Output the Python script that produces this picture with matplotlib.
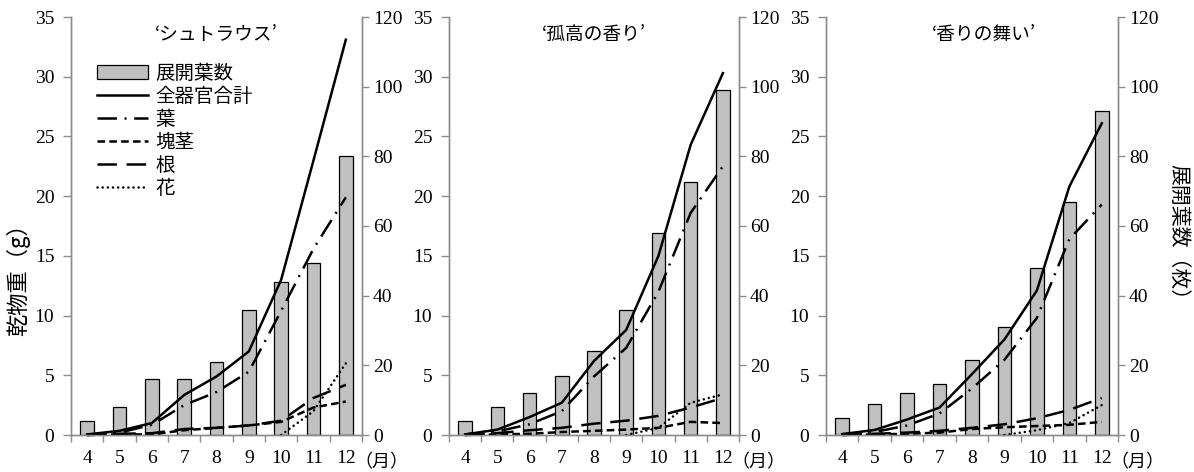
import matplotlib
matplotlib.use('Agg')
import matplotlib.pyplot as plt
import numpy as np

nan = np.nan
months = ['4', '5', '6', '7', '8', '9', '10', '11', '12']

titles = ['‘シュトラウス’', '‘孤高の香り’', '‘香りの舞い’']

# 展開葉数 (right axis)
leaves1 = [4, 8, 16, 16, 21, 36, 44, 49.5, 80]
leaves2 = [4, 8, 12, 17, 24, 36, 58, 72.7, 99]
leaves3 = [5, 9, 12, 14.5, 21.5, 31, 48, 67, 93]

# 乾物重 (left axis)
total1 = [0.05, 0.35, 1.0, 3.35, 4.9, 7.0, 13.0, 23.0, 33.1]
leaf1 = [0.0, 0.2, 0.85, 2.5, 3.6, 5.3, 10.4, 15.6, 19.9]
tuber1 = [0.0, 0.05, 0.05, 0.4, 0.6, 0.8, 1.1, 2.3, 2.8]
root1 = [0.0, 0.1, 0.15, 0.5, 0.6, 0.8, 1.2, 3.1, 4.2]
flower1 = [nan, nan, nan, nan, nan, nan, 0.0, 2.0, 6.0]

total2 = [0.05, 0.45, 1.5, 2.7, 6.2, 8.8, 15.0, 24.3, 30.3]
leaf2 = [0.05, 0.3, 0.9, 2.0, 4.9, 7.3, 12.0, 18.6, 22.5]
tuber2 = [0.0, 0.05, 0.1, 0.25, 0.35, 0.45, 0.6, 1.1, 1.0]
root2 = [0.0, 0.15, 0.4, 0.6, 0.95, 1.2, 1.6, 2.3, 3.1]
flower2 = [nan, nan, nan, nan, nan, 0.0, 0.6, 2.7, 3.4]

total3 = [0.08, 0.42, 1.3, 2.3, 5.1, 8.0, 12.1, 20.8, 26.1]
leaf3 = [0.05, 0.25, 0.8, 1.8, 3.9, 6.3, 9.8, 16.4, 19.3]
tuber3 = [0.0, 0.05, 0.1, 0.2, 0.5, 0.65, 0.75, 0.85, 1.1]
root3 = [0.0, 0.1, 0.2, 0.35, 0.6, 0.9, 1.4, 2.1, 3.1]
flower3 = [nan, nan, nan, nan, nan, 0.0, 0.4, 1.0, 2.5]

JP = ['Noto Sans CJK JP', 'DejaVu Sans']
NUM = 'Liberation Serif'
GRAY = '#8c8c8c'

plt.rcParams['lines.scale_dashes'] = False
plt.rcParams['font.family'] = JP

fig = plt.figure(figsize=(11.94, 4.72), dpi=100)

boxes = [(71, 362), (449, 739), (826, 1118)]
W, H = 1194.0, 472.0
top_px, bot_px = 17, 435


def draw_panel(x0, x1, title, leaves, total, leaf, tuber, root, flower, title_x=0.5):
    ax = fig.add_axes([x0 / W, 1 - bot_px / H, (x1 - x0) / W, (bot_px - top_px) / H])
    ax2 = ax.twinx()
    x = np.arange(len(months))

    bars = ax2.bar(x, leaves, width=0.42, color='#c0c0c0', edgecolor='black',
                   linewidth=0.9, label='展開葉数')
    ax2.set_ylim(0, 120)
    ax2.set_yticks(range(0, 121, 20))

    lw = 1.8
    l_tot, = ax.plot(x, total, color='black', lw=lw, label='全器官合計', clip_on=False)
    l_leaf, = ax.plot(x, leaf, color='black', lw=lw, label='葉', clip_on=False,
                      linestyle=(0, (14, 5.5, 1.4, 5.5)))
    l_tub, = ax.plot(x, tuber, color='black', lw=lw, label='塊茎', clip_on=False,
                     linestyle=(0, (5.5, 3)))
    l_root, = ax.plot(x, root, color='black', lw=lw, label='根', clip_on=False,
                      linestyle=(0, (14, 7)))
    l_fl, = ax.plot(x, flower, color='black', lw=lw, label='花', clip_on=False,
                    linestyle=(0, (0.1, 3.6)), dash_capstyle='round')

    ax.set_ylim(0, 35)
    ax.set_yticks(range(0, 36, 5))
    ax.set_xlim(-0.5, len(months) - 0.5)
    ax.set_xticks(x)
    ax.set_xticklabels(months)
    ax.set_xticks(np.arange(-0.5, len(months), 1.0), minor=True)

    ax.set_zorder(ax2.get_zorder() + 1)
    ax.patch.set_visible(False)

    for a in (ax, ax2):
        a.spines['top'].set_visible(False)
        for s in ('left', 'right', 'bottom'):
            a.spines[s].set_color(GRAY)
            a.spines[s].set_linewidth(1.0)
    ax.tick_params(axis='x', which='major', length=0, pad=11)
    ax.tick_params(axis='x', which='minor', length=5, color=GRAY, width=1.0)
    ax.tick_params(axis='y', length=6, color=GRAY, width=1.0, pad=6)
    ax2.tick_params(axis='y', length=5, color=GRAY, width=1.0, pad=3)
    for lab in ax.get_xticklabels() + ax.get_yticklabels() + ax2.get_yticklabels():
        lab.set_fontfamily(NUM)
        lab.set_fontsize(14)

    ax.text(title_x, 0.958, title, transform=ax.transAxes, ha='center', va='center',
            fontsize=13.5, family=JP)
    ax.text(8.27, -0.065, '（月）', transform=ax.get_xaxis_transform(), ha='left',
            va='center', fontsize=13, family=JP, clip_on=False)
    return ax, [bars, l_tot, l_leaf, l_tub, l_root, l_fl]


ax1, handles = draw_panel(*boxes[0], titles[0], leaves1, total1, leaf1, tuber1, root1, flower1)
draw_panel(*boxes[1], titles[1], leaves2, total2, leaf2, tuber2, root2, flower2)
draw_panel(*boxes[2], titles[2], leaves3, total3, leaf3, tuber3, root3, flower3, title_x=0.54)

ax1.legend(handles=handles, loc='upper left', bbox_to_anchor=(0.09, 0.89),
           frameon=False, fontsize=14, handlelength=2.6, handletextpad=0.4,
           labelspacing=0.1, borderpad=0, borderaxespad=0)

fig.text(18 / W, 1 - 274 / H, '乾物重（g）', rotation=90, ha='center', va='center',
         fontsize=16, family=JP)
fig.text(1178 / W, 1 - 237 / H, '展開葉数（枚）', rotation=270, ha='center', va='center',
         fontsize=15, family=JP)

fig.savefig('out.png', dpi=100)
